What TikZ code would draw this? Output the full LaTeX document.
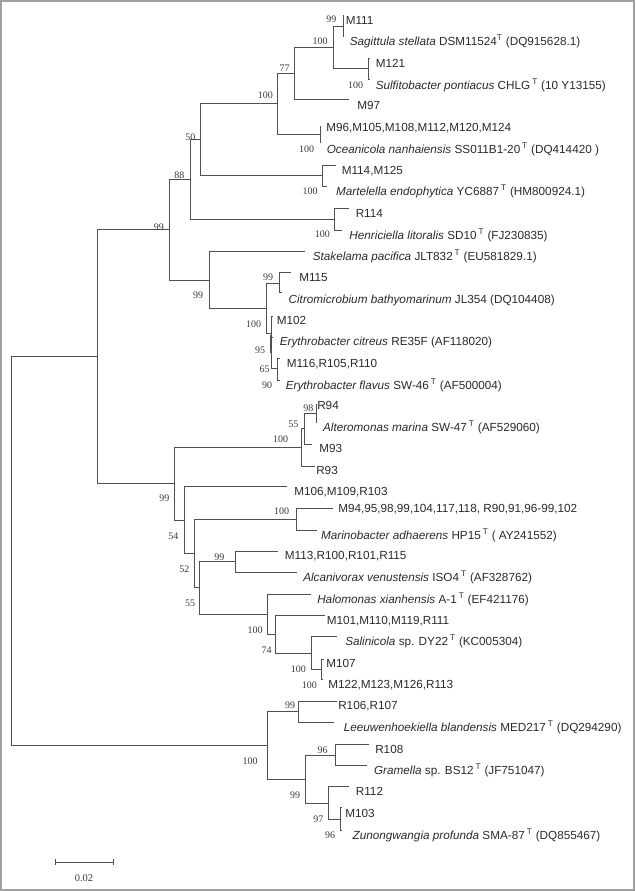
\documentclass[tikz,border=0pt]{standalone}
\usepackage{fontspec}
\newfontfamily\leaffont{Liberation Sans}
\newfontfamily\bsfont{Liberation Serif}
\definecolor{linec}{HTML}{505050}
\definecolor{textc}{HTML}{2A2A2A}
\definecolor{bsc}{HTML}{3A3A3A}
\definecolor{framec}{HTML}{A0A0A0}
\newcommand{\tsup}{\textsuperscript{T}}
\begin{document}
\begin{tikzpicture}[x=0.75pt,y=-0.75pt,
  branch/.style={draw=linec, line width=0.75pt},
  leaf/.style={anchor=base west, inner sep=0pt, yshift=-3.15pt, font=\leaffont\fontsize{8.8}{10}\selectfont, text=textc},
  boot/.style={anchor=center, inner sep=0pt, font=\bsfont\fontsize{7.5}{9}\selectfont, text=bsc}]
\useasboundingbox (0,0) rectangle (635,891);
\draw[framec, line width=1.5pt] (1,1) rectangle (634,890);
% internal nodes
\coordinate (R0) at (11,551.1);
\coordinate (nM) at (97.2,356.5);
\coordinate (nK) at (169,229.5);
\coordinate (nI) at (190,179.4);
\coordinate (nG) at (200,139.8);
\coordinate (nE) at (277.8,104);
\coordinate (nD) at (294.9,74);
\coordinate (nA) at (333,47.8);
\coordinate (nB) at (343.2,26.5);
\coordinate (nC) at (368.6,69);
\coordinate (nF) at (320,135);
\coordinate (nH) at (322.5,176);
\coordinate (nJ) at (334.4,219.3);
\coordinate (nL) at (209.3,280);
\coordinate (nN) at (266.7,308.5);
\coordinate (nO) at (279,283);
\coordinate (nP) at (271,333);
\coordinate (nR) at (277.7,368.5);
\coordinate (nV) at (174.3,483);
\coordinate (nS) at (301.7,447);
\coordinate (nT) at (304,428.5);
\coordinate (nU) at (316,413);
\coordinate (nW) at (184.3,520);
\coordinate (nX) at (194.3,553.3);
\coordinate (nY) at (296.7,519.3);
\coordinate (nZ) at (199.3,587.3);
\coordinate (nAA) at (235,561.5);
\coordinate (nBB) at (267.7,614);
\coordinate (nCC) at (275.7,634);
\coordinate (nDD) at (311,653);
\coordinate (nEE) at (321.7,669.3);
\coordinate (nFF) at (267.3,745.7);
\coordinate (nGG) at (298.3,711.7);
\coordinate (nHH) at (305,779.5);
\coordinate (nII) at (335,755);
\coordinate (nJJ) at (328.3,803);
\coordinate (nKK) at (340,819);
% tips
\coordinate (e1) at (343.5,16);
\coordinate (e2) at (343.5,36.5);
\coordinate (e3) at (369,58.3);
\coordinate (e4) at (369,80);
\coordinate (e5) at (349,100);
\coordinate (e6) at (320.5,127);
\coordinate (e7) at (320.5,143);
\coordinate (e8) at (335.5,165.7);
\coordinate (e9) at (327,186.5);
\coordinate (e10) at (349,209);
\coordinate (e11) at (342,230);
\coordinate (e12) at (304.6,251);
\coordinate (e13) at (291,272.7);
\coordinate (e14) at (281.5,292.7);
\coordinate (e15) at (272.5,316);
\coordinate (e16) at (272.5,337);
\coordinate (e17) at (280,358.5);
\coordinate (e18) at (279.5,380);
\coordinate (e19) at (317,404);
\coordinate (e20) at (317,422.5);
\coordinate (e21) at (311.7,444.3);
\coordinate (e22) at (315,466);
\coordinate (e23) at (286.7,486.7);
\coordinate (e24) at (333.3,508.3);
\coordinate (e25) at (316.7,530);
\coordinate (e26) at (277.7,551);
\coordinate (e27) at (296.7,572.3);
\coordinate (e28) at (311,594);
\coordinate (e29) at (325,615);
\coordinate (e30) at (336.7,636.7);
\coordinate (e31) at (323.5,659);
\coordinate (e32) at (322.5,679.5);
\coordinate (e33) at (336.7,701);
\coordinate (e34) at (334.3,722.3);
\coordinate (e35) at (368.6,744);
\coordinate (e36) at (366.5,765.7);
\coordinate (e37) at (349.3,786.7);
\coordinate (e38) at (342,807.7);
\coordinate (e39) at (342,830);
% branches
\foreach \p/\c in {R0/nM, R0/nFF, nM/nK, nM/nV, nK/nI, nK/nL, nI/nG, nI/nJ,
  nG/nE, nG/nH, nE/nD, nE/nF, nD/nA, nD/e5, nA/nB, nA/nC, nB/e1, nB/e2,
  nC/e3, nC/e4, nF/e6, nF/e7, nH/e8, nH/e9, nJ/e10, nJ/e11, nL/e12, nL/nN,
  nN/nO, nN/nP, nO/e13, nO/e14, nP/e15, nP/e16, nP/nR, nR/e17, nR/e18,
  nV/nS, nV/nW, nS/nT, nS/e22, nT/nU, nT/e21, nU/e19, nU/e20,
  nW/e23, nW/nX, nX/nY, nX/nZ, nY/e24, nY/e25, nZ/nAA, nZ/nBB, nAA/e26, nAA/e27,
  nBB/e28, nBB/nCC, nCC/e29, nCC/nDD, nDD/e30, nDD/nEE, nEE/e31, nEE/e32,
  nFF/nGG, nFF/nHH, nGG/e33, nGG/e34, nHH/nII, nHH/nJJ, nII/e35, nII/e36,
  nJJ/e37, nJJ/nKK, nKK/e38, nKK/e39}
  \draw[branch] (\p) |- (\c);
\coordinate (k1) at (271,335);
\coordinate (k2) at (271,353);
\draw[branch, line width=1.6pt] (k1) -- (k2);
% leaf labels
\node[leaf] (t1) at (345.5,20) {M111};
\node[leaf] (t2) at (349.5,41.3) {\textit{Sagittula stellata} DSM11524\tsup\ (DQ915628.1)};
\node[leaf] (t3) at (375.5,63) {M121};
\node[leaf] (t4) at (375.5,85) {\textit{Sulfitobacter pontiacus} CHLG\,\tsup\ (10 Y13155)};
\node[leaf] (t5) at (357,105.7) {M97};
\node[leaf] (t6) at (326,127.3) {M96,M105,M108,M112,M120,M124};
\node[leaf] (t7) at (326.5,149) {\textit{Oceanicola nanhaiensis} SS011B1-20\,\tsup\ (DQ414420 )};
\node[leaf] (t8) at (341.5,170) {M114,M125};
\node[leaf] (t9) at (335.8,191.7) {\textit{Martelella endophytica} YC6887\,\tsup\ (HM800924.1)};
\node[leaf] (t10) at (355.5,213.3) {R114};
\node[leaf] (t11) at (349.2,235) {\textit{Henriciella litoralis} SD10\,\tsup\ (FJ230835)};
\node[leaf] (t12) at (312.5,256) {\textit{Stakelama pacifica} JLT832\,\tsup\ (EU581829.1)};
\node[leaf] (t13) at (299,277.3) {M115};
\node[leaf] (t14) at (288.4,299) {\textit{Citromicrobium bathyomarinum} JL354 (DQ104408)};
\node[leaf] (t15) at (276.6,320) {M102};
\node[leaf] (t16) at (279.5,341.7) {\textit{Erythrobacter citreus} RE35F (AF118020)};
\node[leaf] (t17) at (286.7,363) {M116,R105,R110};
\node[leaf] (t18) at (285.5,385) {\textit{Erythrobacter flavus} SW-46\,\tsup\ (AF500004)};
\node[leaf] (t19) at (317,405.7) {R94};
\node[leaf] (t20) at (322.8,427.3) {\textit{Alteromonas marina} SW-47\,\tsup\ (AF529060)};
\node[leaf] (t21) at (319,448) {M93};
\node[leaf] (t22) at (316,470) {R93};
\node[leaf] (t23) at (294,491.3) {M106,M109,R103};
\node[leaf] (t24) at (338,508.7) {M94,95,98,99,104,117,118, R90,91,96-99,102};
\node[leaf] (t25) at (320.8,535) {\textit{Marinobacter adhaerens} HP15\,\tsup\ ( AY241552)};
\node[leaf] (t26) at (284.7,555.7) {M113,R100,R101,R115};
\node[leaf] (t27) at (303,577) {\textit{Alcanivorax venustensis} ISO4\,\tsup\ (AF328762)};
\node[leaf] (t28) at (317,599) {\textit{Halomonas xianhensis} A-1\,\tsup\ (EF421176)};
\node[leaf] (t29) at (326.5,620.3) {M101,M110,M119,R111};
\node[leaf] (t30) at (345,641.7) {\textit{Salinicola} sp. DY22\,\tsup\ (KC005304)};
\node[leaf] (t31) at (326,663) {M107};
\node[leaf] (t32) at (328,684.3) {M122,M123,M126,R113};
\node[leaf] (t33) at (338,705.7) {R106,R107};
\node[leaf] (t34) at (343.5,727.3) {\textit{Leeuwenhoekiella blandensis} MED217\,\tsup\ (DQ294290)};
\node[leaf] (t35) at (375,749) {R108};
\node[leaf] (t36) at (373.8,770.3) {\textit{Gramella} sp. BS12\,\tsup\ (JF751047)};
\node[leaf] (t37) at (355.6,791.7) {R112};
\node[leaf] (t38) at (345,813.3) {M103};
\node[leaf] (t39) at (352.4,835) {\textit{Zunongwangia profunda} SMA-87\,\tsup\ (DQ855467)};
% bootstrap values
\node[boot] (b1) at (331.3,19.3) {99};
\node[boot] (b2) at (320,41.3) {100};
\node[boot] (b3) at (355.6,85) {100};
\node[boot] (b4) at (284.7,68.3) {77};
\node[boot] (b5) at (265.3,95.7) {100};
\node[boot] (b6) at (306.6,149) {100};
\node[boot] (b7) at (190.4,137.7) {50};
\node[boot] (b8) at (310,191.7) {100};
\node[boot] (b9) at (179.4,175.3) {88};
\node[boot] (b10) at (322.4,234.7) {100};
\node[boot] (b11) at (158.8,227.7) {99};
\node[boot] (b12) at (198,295) {99};
\node[boot] (b13) at (268,277) {99};
\node[boot] (b14) at (253.5,324) {100};
\node[boot] (b15) at (260,350) {95};
\node[boot] (b16) at (264.5,369) {65};
\node[boot] (b17) at (267,385) {90};
\node[boot] (b18) at (308.3,408.3) {98};
\node[boot] (b19) at (293.3,424.3) {55};
\node[boot] (b20) at (280.7,439.3) {100};
\node[boot] (b21) at (164.3,498.3) {99};
\node[boot] (b22) at (281.7,511.7) {100};
\node[boot] (b23) at (173.3,536) {54};
\node[boot] (b24) at (184.3,569.3) {52};
\node[boot] (b25) at (219.3,557.3) {99};
\node[boot] (b26) at (190,603.3) {55};
\node[boot] (b27) at (255,630) {100};
\node[boot] (b28) at (266.7,650) {74};
\node[boot] (b29) at (298.3,669.3) {100};
\node[boot] (b30) at (309.3,685) {100};
\node[boot] (b31) at (290,705) {99};
\node[boot] (b32) at (250,761.7) {100};
\node[boot] (b33) at (322.7,750.7) {96};
\node[boot] (b34) at (295,795) {99};
\node[boot] (b35) at (318.3,819) {97};
\node[boot] (b36) at (330,835) {96};
% scale bar
\coordinate (sb1) at (55.7,862.3);
\coordinate (sb2) at (113.3,862.3);
\draw[branch] (sb1) -- (sb2);
\draw[branch] ([yshift=2.2pt]sb1) -- ([yshift=-2.2pt]sb1);
\draw[branch] ([yshift=2.2pt]sb2) -- ([yshift=-2.2pt]sb2);
\node[boot, font=\bsfont\fontsize{7.8}{9}\selectfont] (sbl) at (84,878) {0.02};
\end{tikzpicture}
\end{document}
